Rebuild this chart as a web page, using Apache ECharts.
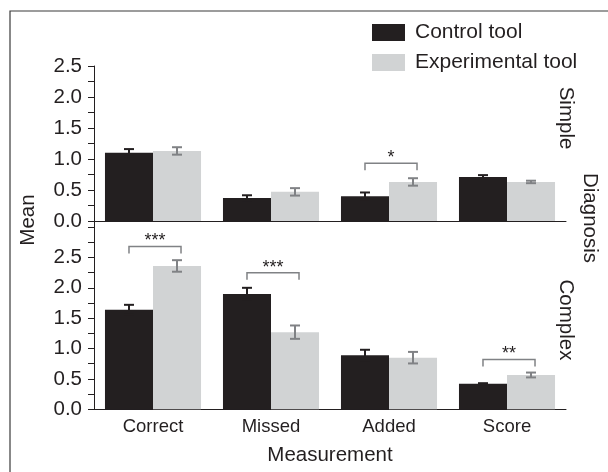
<!DOCTYPE html>
<html>
<head>
<meta charset="utf-8">
<script src="https://cdn.jsdelivr.net/npm/echarts@6/dist/echarts.min.js"></script>
<style>
  html, body { margin: 0; padding: 0; background: #fff; }
  #chart { width: 608px; height: 472px; }
</style>
</head>
<body>
<div id="chart"></div>
<script>
var categories = ['Correct', 'Missed', 'Added', 'Score'];

// Simple diagnosis panel
var simpleControl = [1.10, 0.37, 0.40, 0.71];
var simpleControlErr = [0.06, 0.045, 0.06, 0.03];
var simpleExp = [1.13, 0.47, 0.63, 0.63];
var simpleExpErr = [0.06, 0.06, 0.06, 0.02];

// Complex diagnosis panel
var complexControl = [1.64, 1.90, 0.89, 0.42];
var complexControlErr = [0.08, 0.10, 0.09, 0.01];
var complexExp = [2.36, 1.27, 0.85, 0.565];
var complexExpErr = [0.095, 0.11, 0.095, 0.04];

// significance brackets
var simpleSigCats = [2];
var simpleSigLevels = [0.93];
var simpleSigLabels = ['*'];
var complexSigCats = [0, 1, 3];
var complexSigLevels = [2.68, 2.25, 0.82];
var complexSigLabels = ['***', '***', '**'];

var yTicks = [0, 0.5, 1.0, 1.5, 2.0, 2.5];

var FONT = '"Liberation Sans", Arial, Helvetica, sans-serif';
var INK = '#231f20';
var DARK = '#231f20';
var LIGHT = '#d1d3d4';
var GREY = '#808285';
var CAT_GAP = 0.186;

var chart = echarts.init(document.getElementById('chart'));

function errRender(side, color) {
  return function (params, api) {
    var i = api.value(0), v = api.value(1), e = api.value(2);
    var band = api.size([1, 0])[0];
    var bw = band * (1 - CAT_GAP) / 2;
    var top = api.coord([i, v + e]);
    var bot = api.coord([i, v - e]);
    var x = top[0] + side * bw / 2;
    var cap = 5;
    var st = { stroke: color, lineWidth: 2 };
    return {
      type: 'group',
      children: [
        { type: 'line', shape: { x1: x, y1: top[1], x2: x, y2: bot[1] }, style: st },
        { type: 'line', shape: { x1: x - cap, y1: top[1], x2: x + cap, y2: top[1] }, style: st },
        { type: 'line', shape: { x1: x - cap, y1: bot[1], x2: x + cap, y2: bot[1] }, style: st }
      ]
    };
  };
}

function sigRender(labels) {
  return function (params, api) {
    var i = api.value(0), lvl = api.value(1);
    var band = api.size([1, 0])[0];
    var bw = band * (1 - CAT_GAP) / 2;
    var p = api.coord([i, lvl]);
    var x0 = p[0] - bw / 2;
    var x1 = p[0] + bw / 2 + 4;
    var y = p[1];
    return {
      type: 'group',
      children: [
        {
          type: 'polyline',
          shape: { points: [[x0, y + 7], [x0, y], [x1, y], [x1, y + 7]] },
          style: { stroke: GREY, lineWidth: 1.5, fill: null }
        },
        {
          type: 'text',
          x: (x0 + x1) / 2,
          y: y - 5,
          style: {
            text: labels[params.dataIndex],
            font: '18px ' + FONT,
            fill: INK,
            align: 'center',
            verticalAlign: 'middle'
          }
        }
      ]
    };
  };
}

function pack(vals, errs) {
  return categories.map(function (c, i) { return [i, vals[i], errs[i]]; });
}
function packSig(cats, lv) {
  return cats.map(function (c, i) { return [c, lv[i]]; });
}

var yAxisBase = function (grid, max) {
  return {
    type: 'value',
    gridIndex: grid,
    min: 0,
    max: max,
    interval: 0.5,
    axisLine: { show: true, lineStyle: { color: INK, width: 1 } },
    axisTick: { show: true, inside: false, length: 6, lineStyle: { color: INK } },
    minorTick: { show: true, splitNumber: 2, length: 6, lineStyle: { color: INK } },
    splitLine: { show: false },
    axisLabel: {
      fontSize: 20.5,
      color: INK,
      fontFamily: FONT,
      margin: 12,
      formatter: function (v) {
        return yTicks.indexOf(v) >= 0 ? v.toFixed(1) : '';
      }
    }
  };
};

var option = {
  animation: false,
  backgroundColor: '#fff',
  textStyle: { fontFamily: FONT, color: INK },
  legend: {
    data: ['Control tool', 'Experimental tool'],
    orient: 'vertical',
    left: 372,
    top: 22,
    padding: 0,
    itemWidth: 33,
    itemHeight: 17,
    itemGap: 9,
    icon: 'rect',
    textStyle: { fontSize: 21, color: INK, fontFamily: FONT, padding: [0, 0, 0, 5] }
  },
  grid: [
    { left: 94, top: 66, width: 472, height: 155 },
    { left: 94, top: 221, width: 472, height: 188.3 }
  ],
  xAxis: [
    {
      type: 'category',
      gridIndex: 0,
      data: categories,
      axisLine: { lineStyle: { color: INK, width: 1 } },
      axisTick: { show: false },
      axisLabel: { show: false }
    },
    {
      type: 'category',
      gridIndex: 1,
      data: categories,
      axisLine: { lineStyle: { color: INK, width: 1 } },
      axisTick: { show: false },
      axisLabel: { fontSize: 18.5, color: INK, fontFamily: FONT, margin: 8 },
      name: 'Measurement',
      nameLocation: 'middle',
      nameGap: 36,
      nameTextStyle: { fontSize: 20.5, color: INK, fontFamily: FONT }
    }
  ],
  yAxis: [yAxisBase(0, 2.5), yAxisBase(1, 3.1)],
  series: [
    {
      name: 'Control tool', type: 'bar', xAxisIndex: 0, yAxisIndex: 0,
      data: simpleControl, barGap: '0%', barCategoryGap: (CAT_GAP * 100) + '%',
      itemStyle: { color: DARK }
    },
    {
      name: 'Experimental tool', type: 'bar', xAxisIndex: 0, yAxisIndex: 0,
      data: simpleExp, barGap: '0%', barCategoryGap: (CAT_GAP * 100) + '%',
      itemStyle: { color: LIGHT }
    },
    {
      name: 'Control tool', type: 'bar', xAxisIndex: 1, yAxisIndex: 1,
      data: complexControl, barGap: '0%', barCategoryGap: (CAT_GAP * 100) + '%',
      itemStyle: { color: DARK }
    },
    {
      name: 'Experimental tool', type: 'bar', xAxisIndex: 1, yAxisIndex: 1,
      data: complexExp, barGap: '0%', barCategoryGap: (CAT_GAP * 100) + '%',
      itemStyle: { color: LIGHT }
    },
    { type: 'custom', xAxisIndex: 0, yAxisIndex: 0, z: 5, renderItem: errRender(-1, DARK), data: pack(simpleControl, simpleControlErr) },
    { type: 'custom', xAxisIndex: 0, yAxisIndex: 0, z: 5, renderItem: errRender(1, GREY), data: pack(simpleExp, simpleExpErr) },
    { type: 'custom', xAxisIndex: 1, yAxisIndex: 1, z: 5, renderItem: errRender(-1, DARK), data: pack(complexControl, complexControlErr) },
    { type: 'custom', xAxisIndex: 1, yAxisIndex: 1, z: 5, renderItem: errRender(1, GREY), data: pack(complexExp, complexExpErr) },
    { type: 'custom', xAxisIndex: 0, yAxisIndex: 0, z: 5, renderItem: sigRender(simpleSigLabels), data: packSig(simpleSigCats, simpleSigLevels) },
    { type: 'custom', xAxisIndex: 1, yAxisIndex: 1, z: 5, renderItem: sigRender(complexSigLabels), data: packSig(complexSigCats, complexSigLevels) }
  ],
  graphic: [
    {
      type: 'rect', z: -1,
      shape: { x: 10, y: 11, width: 700, height: 700 },
      style: { fill: null, stroke: '#3a3a3a', lineWidth: 1.2 }
    },
    {
      type: 'text', x: 28, y: 220, rotation: Math.PI / 2,
      style: { text: 'Mean', font: '20.5px ' + FONT, fill: INK, align: 'center', verticalAlign: 'middle' }
    },
    {
      type: 'text', x: 566, y: 118, rotation: -Math.PI / 2,
      style: { text: 'Simple', font: '20.5px ' + FONT, fill: INK, align: 'center', verticalAlign: 'middle' }
    },
    {
      type: 'text', x: 590, y: 218, rotation: -Math.PI / 2,
      style: { text: 'Diagnosis', font: '20.5px ' + FONT, fill: INK, align: 'center', verticalAlign: 'middle' }
    },
    {
      type: 'text', x: 566, y: 320, rotation: -Math.PI / 2,
      style: { text: 'Complex', font: '20.5px ' + FONT, fill: INK, align: 'center', verticalAlign: 'middle' }
    }
  ]
};

chart.setOption(option);
</script>
</body>
</html>
